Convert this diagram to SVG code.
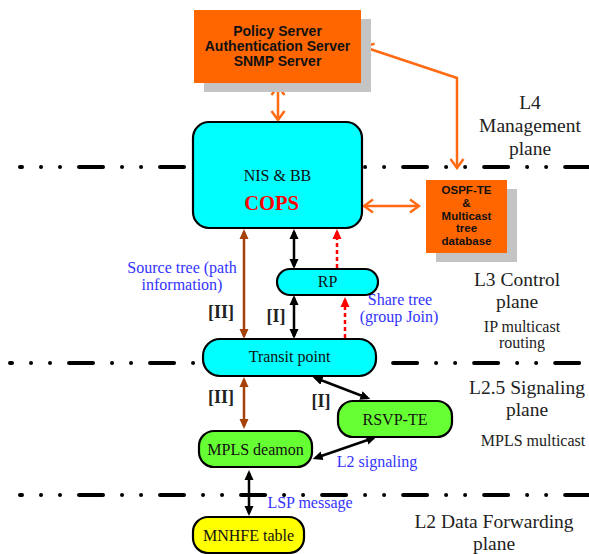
<svg xmlns="http://www.w3.org/2000/svg" width="589" height="554" viewBox="0 0 589 554">
<style>
.serif{font-family:"Liberation Serif","Times New Roman",serif}
.sans{font-family:"Liberation Sans",Arial,sans-serif;font-weight:bold;fill:#111}
.plane{font-size:19.5px;fill:#222;text-anchor:middle}
.sub{font-size:16px;fill:#222;text-anchor:middle}
.lbl{font-size:16px;fill:#111;text-anchor:middle}
.blue{font-size:16px;fill:#3333ff;text-anchor:middle}
.rom{font-size:18px;font-weight:bold;fill:#222;text-anchor:middle}
.node{stroke:#000;stroke-width:2.2}
.sep{stroke:#000;stroke-width:4;stroke-linecap:round;stroke-dasharray:24 19 0.01 19 0.01 19;stroke-dashoffset:22;fill:none}
.blk{stroke:#000;stroke-width:2.5;fill:none;marker-start:url(#ab);marker-end:url(#ab)}
.brn{stroke:#a5420a;stroke-width:2.5;fill:none;marker-start:url(#abr);marker-end:url(#abr)}
.red{stroke:#ff0000;stroke-width:2.5;stroke-dasharray:4 3;fill:none;marker-end:url(#ar)}
.org{stroke:#ff6a13;stroke-width:2.5;fill:none;marker-start:url(#ao);marker-end:url(#ao)}
</style>
<defs>
<marker id="ab" viewBox="0 0 10 10" refX="7" refY="5" markerWidth="10" markerHeight="10" markerUnits="userSpaceOnUse" orient="auto-start-reverse"><path d="M0,0.5 L10,5 L0,9.5 z" fill="#000"/></marker>
<marker id="abr" viewBox="0 0 10 10" refX="7" refY="5" markerWidth="10" markerHeight="10" markerUnits="userSpaceOnUse" orient="auto-start-reverse"><path d="M0,0.5 L10,5 L0,9.5 z" fill="#a5420a"/></marker>
<marker id="ar" viewBox="0 0 10 10" refX="7" refY="5" markerWidth="10" markerHeight="10" markerUnits="userSpaceOnUse" orient="auto-start-reverse"><path d="M0,0.5 L10,5 L0,9.5 z" fill="#ff0000"/></marker>
<marker id="ao" viewBox="0 0 12 16" refX="10.5" refY="8" markerWidth="12" markerHeight="16" markerUnits="userSpaceOnUse" orient="auto-start-reverse"><path d="M1.5,1.5 L10.5,8 L1.5,14.5" fill="none" stroke="#ff6a13" stroke-width="2.5"/></marker>
</defs>
<rect width="589" height="554" fill="#ffffff"/>

<g id="separators">
<line class="sep" x1="20" y1="167" x2="589" y2="167"/>
<line class="sep" x1="10" y1="363" x2="589" y2="363"/>
<line class="sep" x1="20" y1="495" x2="589" y2="495"/>
</g>

<g id="plane-labels" class="serif">
<text class="plane" x="530" y="109">L4</text>
<text class="plane" x="530" y="132">Management</text>
<text class="plane" x="530" y="155">plane</text>
<text class="plane" x="517" y="286">L3 Control</text>
<text class="plane" x="517" y="308">plane</text>
<text class="sub" x="522" y="332">IP multicast</text>
<text class="sub" x="522" y="348">routing</text>
<text class="plane" x="527" y="394">L2.5 Signaling</text>
<text class="plane" x="527" y="416">plane</text>
<text class="sub" x="533" y="446">MPLS multicast</text>
<text class="plane" x="494" y="528">L2 Data Forwarding</text>
<text class="plane" x="494" y="550">plane</text>
</g>

<g id="connectors">
<path class="org" d="M278,86 L278,120"/>
<path class="org" d="M457,168 L457,78 L364,47"/>
<path class="org" d="M364,206 L419,206"/>
<path class="blk" d="M294,232 L294,266"/>
<path class="blk" d="M294,298 L294,336"/>
<path class="blk" d="M315.5,378 L367.5,398"/>
<path class="blk" d="M373.5,438 L315.5,458"/>
<path class="blk" d="M249,473 L249,513"/>
<path class="brn" d="M244,232 L244,336"/>
<path class="brn" d="M244,380 L244,426"/>
<path class="red" d="M337,268 L337,232"/>
<path class="red" d="M345,338 L345,300"/>
</g>

<g id="connector-labels" class="serif">
<text class="blue" x="182" y="273">Source tree (path</text>
<text class="blue" x="182" y="290">information)</text>
<text class="rom" x="221" y="318">[II]</text>
<text class="rom" x="276" y="322">[I]</text>
<text class="blue" x="400" y="305">Share tree</text>
<text class="blue" x="399" y="322">(group Join)</text>
<text class="rom" x="221" y="403">[II]</text>
<text class="rom" x="321" y="407">[I]</text>
<text class="blue" x="377" y="467">L2 signaling</text>
<text class="blue" x="310" y="508">LSP message</text>
</g>

<g id="policy-server">
<rect x="204" y="19" width="167" height="73" fill="#c4c4c4"/>
<rect x="194" y="10" width="167" height="73" fill="#ff6600"/>
<text class="sans" x="277.5" y="36" font-size="14" text-anchor="middle">Policy Server</text>
<text class="sans" x="277.5" y="51" font-size="14" text-anchor="middle">Authentication Server</text>
<text class="sans" x="277.5" y="66" font-size="14" text-anchor="middle">SNMP Server</text>
</g>

<g id="ospf-db">
<rect x="436" y="189" width="81" height="73" fill="#c4c4c4"/>
<rect x="426" y="180" width="81" height="73" fill="#ff6600"/>
<g class="sans" font-size="11.5" text-anchor="middle">
<text x="466.5" y="194">OSPF-TE</text>
<text x="466.5" y="207">&amp;</text>
<text x="466.5" y="220">Multicast</text>
<text x="466.5" y="232">tree</text>
<text x="466.5" y="245">database</text>
</g>
</g>

<g id="nis-bb">
<rect class="node" x="193" y="122" width="169" height="106" rx="16" fill="#00ffff"/>
<text class="serif lbl" x="277.5" y="181">NIS &amp; BB</text>
<text class="serif" x="271.5" y="210" font-size="20.5" font-weight="bold" fill="#ff0000" text-anchor="middle">COPS</text>
</g>

<g id="rp">
<rect class="node" x="277" y="269" width="101" height="26" rx="13" fill="#00ffff"/>
<text class="serif lbl" x="327.5" y="287">RP</text>
</g>

<g id="transit-point">
<rect class="node" x="203" y="339" width="173" height="37" rx="17" fill="#00ffff"/>
<text class="serif lbl" x="289.5" y="362">Transit point</text>
</g>

<g id="rsvp-te">
<rect class="node" x="338" y="401" width="114" height="36" rx="15" fill="#66ff33"/>
<text class="serif lbl" x="395" y="425">RSVP-TE</text>
</g>

<g id="mpls-deamon">
<rect class="node" x="199" y="431" width="113" height="36" rx="15" fill="#66ff33"/>
<text class="serif lbl" x="255.5" y="455">MPLS deamon</text>
</g>

<g id="mnhfe-table">
<rect class="node" x="193" y="517" width="111" height="36" rx="15" fill="#ffff00"/>
<text class="serif lbl" x="248.5" y="541">MNHFE table</text>
</g>
</svg>
